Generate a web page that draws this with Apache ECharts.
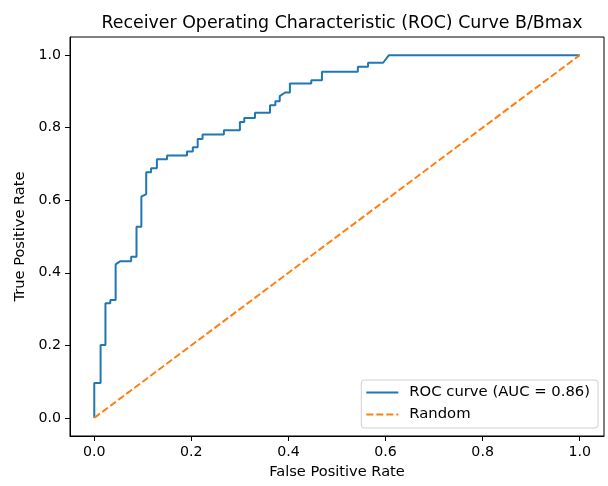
<!DOCTYPE html>
<html>
<head>
<meta charset="utf-8">
<script src="https://cdn.jsdelivr.net/npm/echarts@6/dist/echarts.min.js"></script>
<style>
  html, body { margin: 0; padding: 0; background: #fff; }
  #chart { width: 608px; height: 486px; }
</style>
</head>
<body>
<div id="chart"></div>
<script>
// ROC staircase
const fpr = [0, 0, 0.013, 0.013, 0.023, 0.023, 0.033, 0.033, 0.044, 0.044, 0.054, 0.076, 0.076, 0.087, 0.087,
  0.097, 0.097, 0.107, 0.107, 0.117, 0.117, 0.129, 0.129, 0.150, 0.150, 0.191, 0.191, 0.203, 0.203,
  0.213, 0.213, 0.223, 0.223, 0.267, 0.267, 0.300, 0.300, 0.309, 0.309, 0.331, 0.331, 0.362, 0.362,
  0.373, 0.373, 0.382, 0.382, 0.393, 0.403, 0.403, 0.447, 0.447, 0.469, 0.469, 0.543, 0.543, 0.564,
  0.564, 0.595, 0.607, 1];
const tpr = [0, 0.096, 0.096, 0.201, 0.201, 0.316, 0.316, 0.325, 0.325, 0.423, 0.432, 0.432, 0.444, 0.444, 0.527,
  0.527, 0.61, 0.617, 0.677, 0.677, 0.688, 0.688, 0.713, 0.713, 0.723, 0.723, 0.734, 0.734, 0.746,
  0.746, 0.769, 0.769, 0.781, 0.781, 0.793, 0.793, 0.816, 0.816, 0.827, 0.827, 0.841, 0.841, 0.862,
  0.862, 0.873, 0.873, 0.887, 0.897, 0.897, 0.922, 0.922, 0.931, 0.931, 0.954, 0.954, 0.968, 0.968,
  0.979, 0.979, 1.0, 1.0];
const randomX = [0, 1];
const randomY = [0, 1];
const tickValues = [0, 0.2, 0.4, 0.6, 0.8, 1.0];
const aucLabel = "ROC curve (AUC = 0.86)";

const font = "DejaVu Sans";
const roc = fpr.map((x, i) => [x, tpr[i]]);
const diag = randomX.map((x, i) => [x, randomY[i]]);

function axis(name, gap, rotate) {
  return {
    type: "value",
    min: -0.05,
    max: 1.05,
    name: name,
    nameLocation: "middle",
    nameGap: gap,
    nameRotate: rotate,
    nameTextStyle: { fontFamily: font, fontSize: 14.6, color: "#000" },
    axisLine: { show: true, onZero: false, lineStyle: { color: "#000", width: 1 } },
    axisTick: { show: true, length: 5, customValues: tickValues, lineStyle: { color: "#000" } },
    axisLabel: {
      customValues: tickValues,
      fontFamily: font, fontSize: 14.2, color: "#000", margin: 9,
      formatter: (v) => v.toFixed(1)
    },
    splitLine: { show: false }
  };
}

const chart = echarts.init(document.getElementById("chart"));
chart.setOption({
  animation: false,
  title: {
    text: "Receiver Operating Characteristic (ROC) Curve B/Bmax",
    left: 337, top: 10, textAlign: "center",
    textStyle: { fontFamily: font, fontSize: 17.4, fontWeight: "normal", color: "#000" }
  },
  grid: {
    left: 70, right: 4, top: 37, bottom: 50,
    show: true, borderColor: "#000", borderWidth: 1, backgroundColor: "#fff"
  },
  xAxis: axis("False Positive Rate", 29, 0),
  yAxis: axis("True Positive Rate", 41, 90),
  legend: {
    orient: "vertical",
    right: 10, bottom: 58,
    backgroundColor: "#fff",
    borderColor: "#d0d0d0", borderWidth: 1, borderRadius: 3,
    padding: [5, 8, 6, 4],
    itemWidth: 32, itemHeight: 14, itemGap: 7,
    itemStyle: { opacity: 0 },
    textStyle: { fontFamily: font, fontSize: 14.8, color: "#000", padding: [0, 0, 0, 6] },
    data: [aucLabel, "Random"]
  },
  series: [
    {
      name: aucLabel, type: "line", data: roc,
      showSymbol: false, symbol: "none",
      lineStyle: { color: "#1f77b4", width: 2 }, itemStyle: { color: "#1f77b4" }
    },
    {
      name: "Random", type: "line", data: diag,
      showSymbol: false, symbol: "none",
      lineStyle: { color: "#ff7f0e", width: 2, type: [7, 3] }, itemStyle: { color: "#ff7f0e" }
    }
  ]
});
</script>
</body>
</html>
